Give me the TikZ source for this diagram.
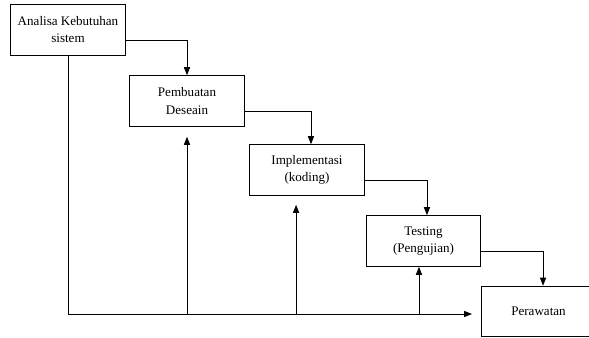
\documentclass[tikz,border=0pt]{standalone}
\usepackage{fontspec}
\setmainfont{Liberation Serif}
\usetikzlibrary{arrows.meta, positioning, calc}

\begin{document}
\begin{tikzpicture}[
			x=0.75pt, y=-0.75pt,
			tahap/.style={rectangle, draw=black, line width=0.7pt, minimum width=86pt, minimum height=38pt, align=center, font=\fontsize{9.8}{12.8}\selectfont},
			arrow/.style={-{Triangle[length=6pt, width=4.6pt]}, line width=0.7pt}
			]
			\clip (0,0) rectangle (589,338);
			
			\node[tahap] (analisa) at (68,30) {Analisa Kebutuhan\\sistem};
			\node[tahap] (desain) at (187,101) {Pembuatan\\Deseain};
			\node[tahap] (koding) at (307,170) {Implementasi\\(koding)};
			\node[tahap] (testing) at (423.5,241) {Testing\\(Pengujian)};
			\node[tahap] (rawat) at (538.5,311.5) {Perawatan};
			
			% alur turun
			\draw[arrow] ([yshift=-7.5pt]analisa.east) -| (desain.north);
			\draw[arrow] ([yshift=-7.5pt]desain.east) -| ([xshift=3pt]koding.north);
			\draw[arrow] ([yshift=-8pt]koding.east) -| ([xshift=2.6pt]testing.north);
			\draw[arrow] ([yshift=-7.5pt]testing.east) -| ([xshift=3.4pt]rawat.north);
			
			% alur balik
			\coordinate (dasar) at (68,314);
			\coordinate (ujung) at (472,314);
			\draw[arrow] (analisa.south) |- (ujung);
			\draw[arrow] (desain.south |- dasar) -- ([yshift=-7.5pt]desain.south);
			\draw[arrow] ([xshift=-8.2pt]koding.south |- dasar) -- ([xshift=-8.2pt, yshift=-6.8pt]koding.south);
			\draw[arrow] ([xshift=-3.4pt]testing.south |- dasar) -- ([xshift=-3.4pt]testing.south);
		\end{tikzpicture}
\end{document}
